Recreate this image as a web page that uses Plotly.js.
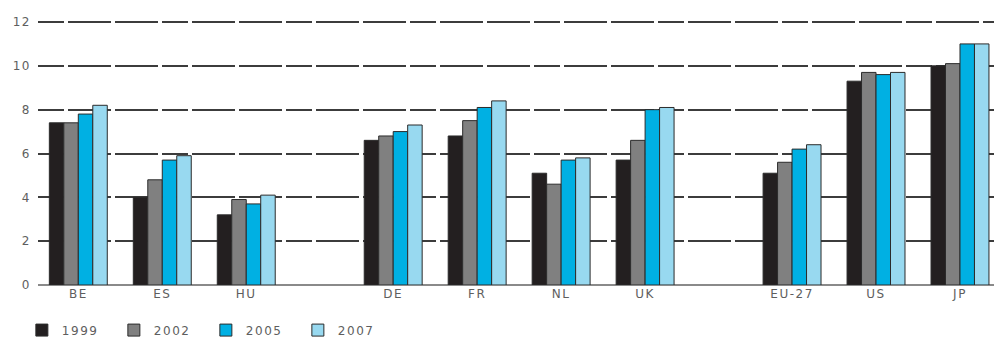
<!DOCTYPE html>
<html>
<head>
<meta charset="utf-8">
<script src="https://cdn.plot.ly/plotly-3.0.1.min.js"></script>
<style>
  html, body { margin: 0; padding: 0; background: #fff; }
  #chart { width: 994px; height: 338px; }
  .xtick text, .ytick text, .legendtext { letter-spacing: 1.5px; }
</style>
</head>
<body>
<div id="chart"></div>
<script>
// Countries / regions along the x axis
const categories = ["BE", "ES", "HU", "DE", "FR", "NL", "UK", "EU-27", "US", "JP"];
// Series (years)
const years = ["1999", "2002", "2005", "2007"];
const values1999 = [7.4, 4.0, 3.2, 6.6, 6.8, 5.1, 5.7, 5.1, 9.3, 10.0];
const values2002 = [7.4, 4.8, 3.9, 6.8, 7.5, 4.6, 6.6, 5.6, 9.7, 10.1];
const values2005 = [7.8, 5.7, 3.7, 7.0, 8.1, 5.7, 8.0, 6.2, 9.6, 11.0];
const values2007 = [8.2, 5.9, 4.1, 7.3, 8.4, 5.8, 8.1, 6.4, 9.7, 11.0];
// y axis ticks
const yTicks = [0, 2, 4, 6, 8, 10, 12];

// Layout: three country blocks separated by wider gaps
const blockStarts = [3, 7];      // index where a new block begins
const blockGap = 0.75;           // extra spacing between blocks (in category units)
const xPos = categories.map((c, i) => i + blockStarts.filter(s => i >= s).length * blockGap);

const colors = ["#231f20", "#808080", "#00b0e3", "#98d9f0"];
const series = [values1999, values2002, values2005, values2007];

const traces = series.map((vals, k) => ({
  type: "bar",
  name: years[k],
  x: xPos,
  y: vals,
  marker: { color: colors[k], line: { color: "#2b2b2b", width: 1 } },
  hoverinfo: "x+y+name"
}));

const labelFont = { family: "DejaVu Sans, Arial, sans-serif", size: 12, color: "#5e5e5e" };

const layout = {
  width: 994,
  height: 338,
  margin: { l: 38, r: 0, t: 19, b: 53, autoexpand: false },
  paper_bgcolor: "#ffffff",
  plot_bgcolor: "#ffffff",
  barmode: "group",
  bargap: 0.31,
  bargroupgap: 0,
  showlegend: true,
  xaxis: {
    type: "linear",
    range: [-0.48, xPos[xPos.length - 1] + 0.405],
    tickvals: xPos,
    ticktext: categories,
    showgrid: false,
    zeroline: false,
    showline: false,
    ticks: "",
    tickfont: labelFont,
    fixedrange: true
  },
  yaxis: {
    range: [0, 12.137],
    tickvals: yTicks,
    ticktext: yTicks.map(String),
    showgrid: true,
    gridcolor: "#3c3c3c",
    gridwidth: 2,
    griddash: "26px,4px,43px,4px,43px,4px",
    zeroline: true,
    zerolinecolor: "#8a8a8a",
    zerolinewidth: 2,
    showline: false,
    ticks: "",
    ticklabelstandoff: 6,
    tickfont: labelFont,
    fixedrange: true
  },
  legend: {
    orientation: "h",
    xref: "container",
    yref: "paper",
    x: 0.022,
    xanchor: "left",
    y: -0.115,
    yanchor: "top",
    entrywidth: 47,
    itemwidth: 30,
    font: labelFont,
    bgcolor: "rgba(0,0,0,0)",
    traceorder: "normal"
  }
};

Plotly.newPlot("chart", traces, layout, { displayModeBar: false, staticPlot: true });
</script>
</body>
</html>
